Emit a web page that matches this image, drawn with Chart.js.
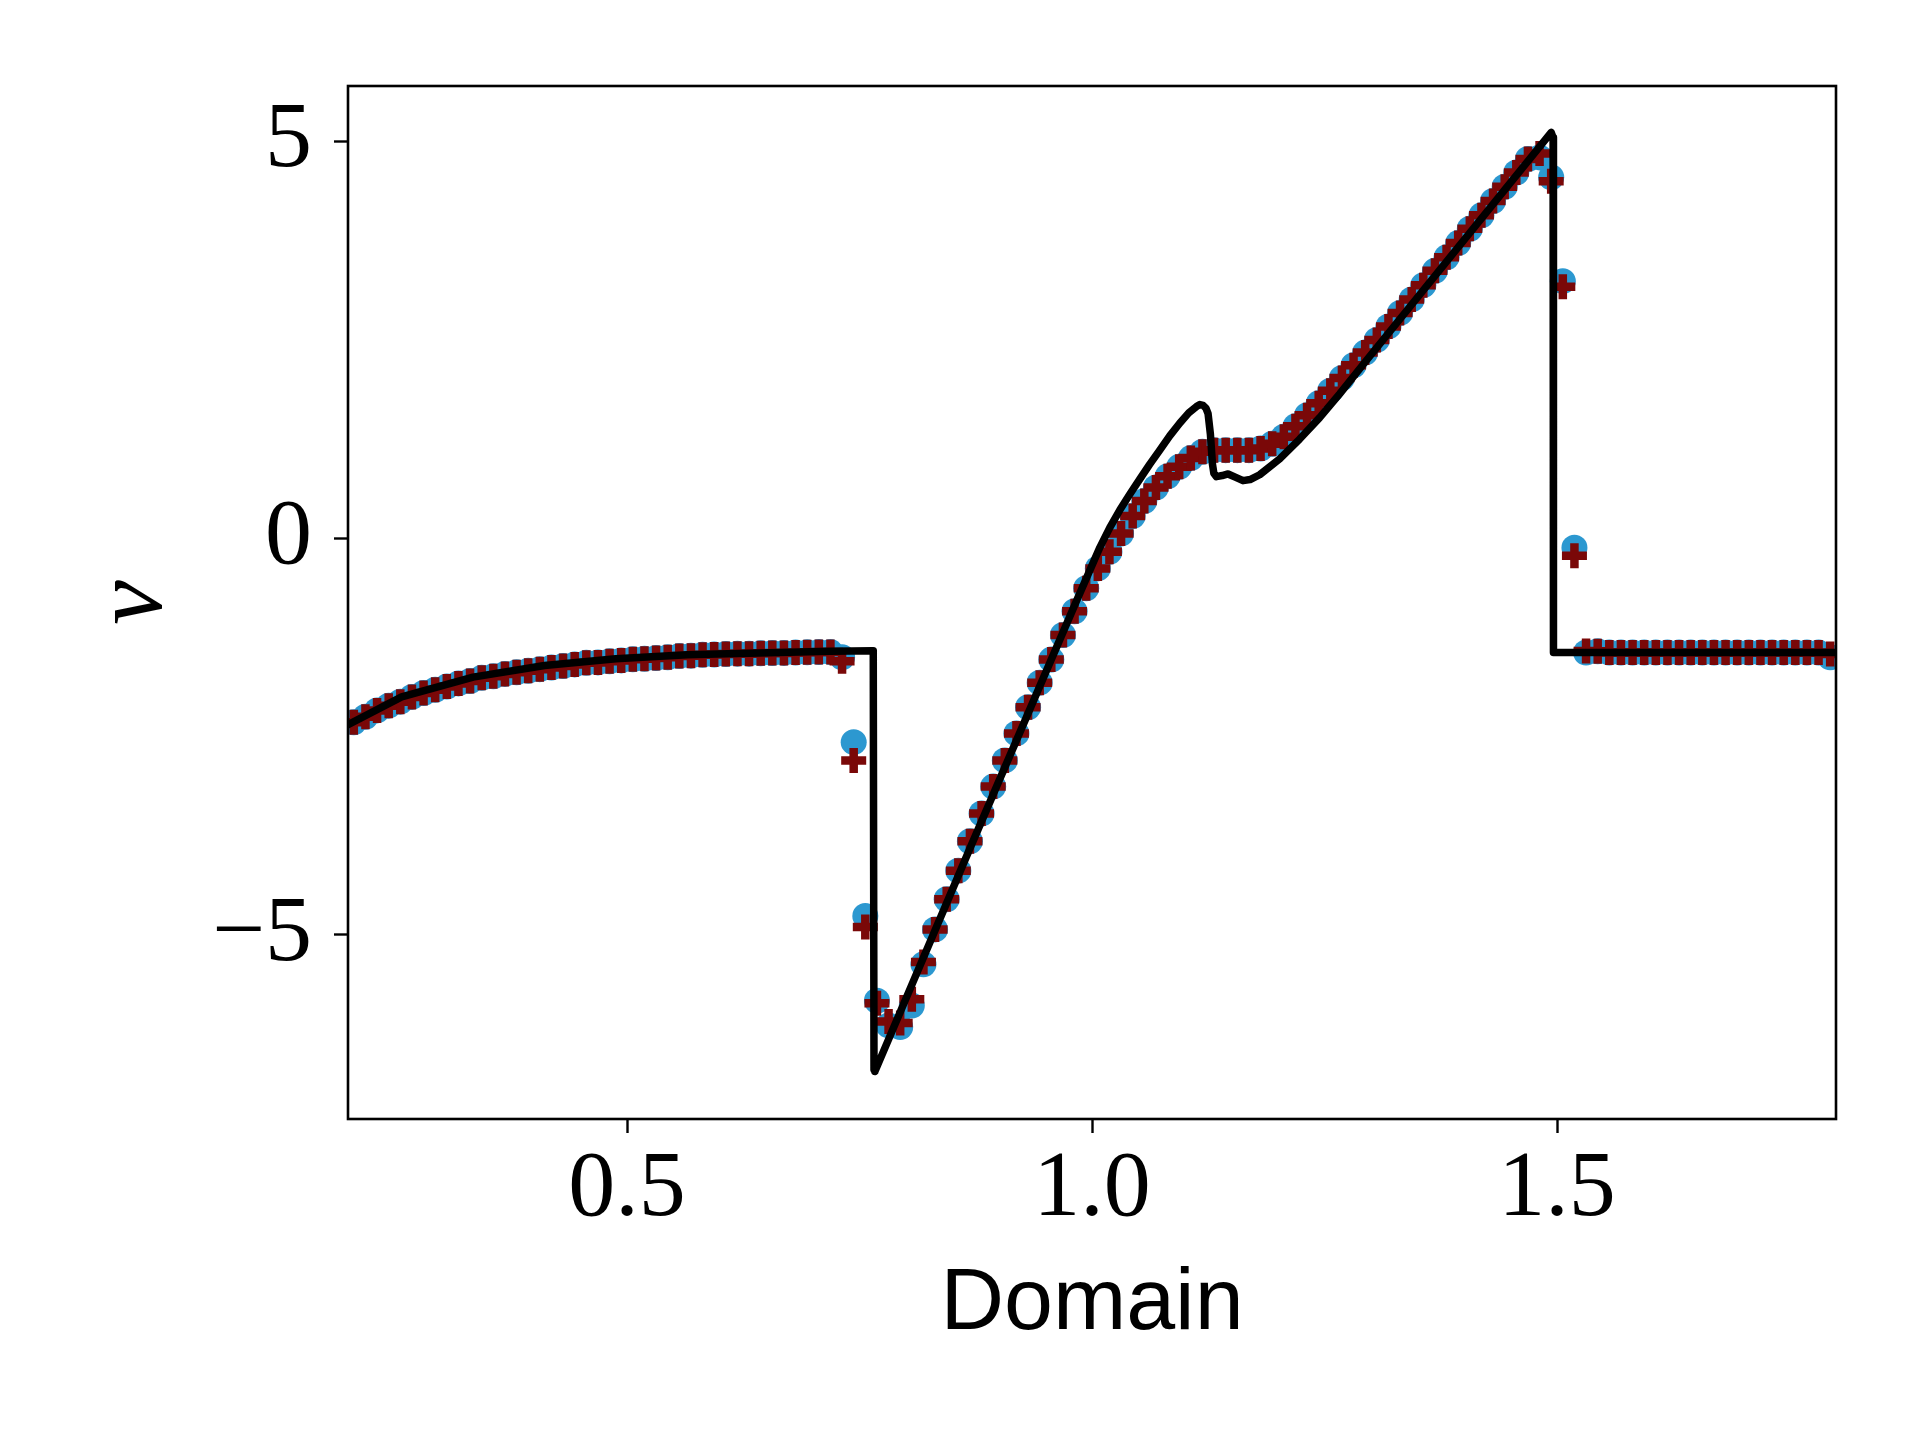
<!DOCTYPE html>
<html>
<head>
<meta charset="utf-8">
<script src="https://cdn.jsdelivr.net/npm/chart.js@4.4.1/dist/chart.umd.min.js"></script>
<style>
  html, body { margin:0; padding:0; background:#fff; }
  #wrap { width:1920px; height:1440px; }
</style>
</head>
<body>
<div id="wrap"><canvas id="chart" width="1920" height="1440"></canvas></div>
<script>
// cell centres of the numerical grid
const cellX = [
  0.20625,0.21875,0.23125,0.24375,0.25625,0.26875,0.28125,0.29375,
  0.30625,0.31875,0.33125,0.34375,0.35625,0.36875,0.38125,0.39375,
  0.40625,0.41875,0.43125,0.44375,0.45625,0.46875,0.48125,0.49375,
  0.50625,0.51875,0.53125,0.54375,0.55625,0.56875,0.58125,0.59375,
  0.60625,0.61875,0.63125,0.64375,0.65625,0.66875,0.68125,0.69375,
  0.70625,0.71875,0.73125,0.74375,0.75625,0.76875,0.78125,0.79375,
  0.80625,0.81875,0.83125,0.84375,0.85625,0.86875,0.88125,0.89375,
  0.90625,0.91875,0.93125,0.94375,0.95625,0.96875,0.98125,0.99375,
  1.00625,1.01875,1.03125,1.04375,1.05625,1.06875,1.08125,1.09375,
  1.10625,1.11875,1.13125,1.14375,1.15625,1.16875,1.18125,1.19375,
  1.20625,1.21875,1.23125,1.24375,1.25625,1.26875,1.28125,1.29375,
  1.30625,1.31875,1.33125,1.34375,1.35625,1.36875,1.38125,1.39375,
  1.40625,1.41875,1.43125,1.44375,1.45625,1.46875,1.48125,1.49375,
  1.50625,1.51875,1.53125,1.54375,1.55625,1.56875,1.58125,1.59375,
  1.60625,1.61875,1.63125,1.64375,1.65625,1.66875,1.68125,1.69375,
  1.70625,1.71875,1.73125,1.74375,1.75625,1.76875,1.78125,1.79375
];

// blue circles
const circleV = [
  -2.32,-2.25,-2.17,-2.11,-2.06,-2.00,-1.95,-1.91,
  -1.87,-1.83,-1.80,-1.76,-1.74,-1.71,-1.69,-1.67,
  -1.65,-1.63,-1.61,-1.59,-1.57,-1.565,-1.55,-1.54,
  -1.525,-1.52,-1.51,-1.50,-1.485,-1.48,-1.47,-1.465,
  -1.46,-1.455,-1.455,-1.45,-1.448,-1.445,-1.44,-1.437,
  -1.435,-1.435,-1.50,-2.57,-4.76,-5.83,-6.14,-6.16,
  -5.89,-5.37,-4.93,-4.55,-4.19,-3.82,-3.47,-3.13,
  -2.80,-2.46,-2.13,-1.82,-1.53,-1.22,-0.92,-0.63,
  -0.38,-0.17,0.06,0.28,0.47,0.64,0.78,0.90,
  1.01,1.09,1.11,1.11,1.11,1.11,1.13,1.19,
  1.28,1.41,1.55,1.70,1.86,2.02,2.18,2.34,
  2.50,2.67,2.84,3.01,3.19,3.37,3.54,3.72,
  3.90,4.07,4.25,4.43,4.61,4.78,4.80,4.55,
  3.24,-0.12,-1.44,-1.425,-1.44,-1.44,-1.44,-1.44,
  -1.44,-1.44,-1.44,-1.44,-1.44,-1.44,-1.44,-1.44,
  -1.44,-1.44,-1.44,-1.44,-1.44,-1.44,-1.44,-1.50
];

// dark red plus markers
const plusV = [
  -2.32,-2.25,-2.17,-2.11,-2.06,-2.00,-1.95,-1.91,
  -1.87,-1.83,-1.80,-1.76,-1.74,-1.71,-1.69,-1.67,
  -1.65,-1.63,-1.61,-1.59,-1.57,-1.565,-1.55,-1.54,
  -1.525,-1.52,-1.51,-1.50,-1.485,-1.48,-1.47,-1.465,
  -1.46,-1.455,-1.455,-1.45,-1.448,-1.445,-1.44,-1.437,
  -1.435,-1.435,-1.55,-2.80,-4.90,-5.86,-6.09,-6.11,
  -5.81,-5.34,-4.93,-4.55,-4.19,-3.82,-3.47,-3.13,
  -2.80,-2.46,-2.13,-1.82,-1.53,-1.22,-0.92,-0.63,
  -0.38,-0.17,0.06,0.28,0.47,0.64,0.78,0.90,
  1.01,1.09,1.11,1.11,1.11,1.11,1.13,1.19,
  1.28,1.41,1.55,1.70,1.86,2.02,2.18,2.34,
  2.50,2.67,2.84,3.01,3.19,3.37,3.54,3.72,
  3.90,4.07,4.25,4.43,4.61,4.78,4.85,4.50,
  3.17,-0.22,-1.42,-1.425,-1.44,-1.44,-1.44,-1.44,
  -1.44,-1.44,-1.44,-1.44,-1.44,-1.44,-1.44,-1.44,
  -1.44,-1.44,-1.44,-1.44,-1.44,-1.44,-1.44,-1.46
];

// reference (exact) solution, black line
const exactX = [0.200,0.2577,0.3345,0.4113,0.488,0.5647,0.6415,0.7183,0.7648,0.7656,0.7666,0.8687,0.9833,1.0085,1.0190,1.0299,1.0410,1.0514,1.0620,1.0729,1.0836,1.0943,1.1040,1.1123,1.1160,1.1194,1.1225,1.1248,1.1273,1.1295,1.1310,1.1338,1.1400,1.1463,1.1540,1.1624,1.1700,1.1803,1.2018,1.2233,1.2448,1.2663,1.2950,1.4938,1.4958,1.4962,1.800];
const exactV = [-2.35,-2.00,-1.75,-1.605,-1.52,-1.47,-1.445,-1.425,-1.418,-6.70,-6.72,-3.91,-0.79,-0.115,0.13,0.355,0.56,0.745,0.93,1.11,1.29,1.45,1.58,1.66,1.685,1.675,1.64,1.57,1.314,0.936,0.82,0.776,0.79,0.81,0.77,0.726,0.74,0.80,1.0,1.25,1.52,1.82,2.24,5.115,5.05,-1.44,-1.44];

const xTicks = [0.5, 1.0, 1.5];
const xTickLabels = ['0.5', '1.0', '1.5'];
const yTicks = [-5, 0, 5];
const yTickLabels = ['\u22125', '0', '5'];

const pts = (xs, ys) => xs.map((x, i) => ({ x, y: ys[i] }));

const frame = {
  id: 'frame',
  afterDraw(chart){
    const { ctx, chartArea: a } = chart;
    ctx.save();
    ctx.strokeStyle = '#000';
    ctx.lineWidth = 2.6;
    ctx.strokeRect(a.left, a.top, a.right - a.left, a.bottom - a.top);
    ctx.restore();
  }
};

const tickGrid = { display:true, drawOnChartArea:false, drawTicks:true, tickLength:14, tickWidth:2.4, tickColor:'#000' };

new Chart(document.getElementById('chart'), {
  type: 'scatter',
  data: {
    datasets: [
      { label:'exact', data: pts(exactX, exactV), showLine:true, pointRadius:0, borderColor:'#000', borderWidth:7.5,
        borderJoinStyle:'round', borderCapStyle:'round', tension:0, clip:0, order:1 },
      { label:'plus', data: pts(cellX, plusV), showLine:false, pointStyle:'cross', pointRadius:12.5,
        pointBorderColor:'#7a0808', pointBackgroundColor:'#7a0808', pointBorderWidth:8.5, clip:0, order:2 },
      { label:'circle', data: pts(cellX, circleV), showLine:false, pointStyle:'circle', pointRadius:13,
        pointBackgroundColor:'#2c98d0', pointBorderWidth:0, clip:0, order:3 }
    ]
  },
  options: {
    responsive:false, animation:false, devicePixelRatio:1,
    layout:{ padding:{ left:0, top:86, right:84, bottom:0 } },
    plugins:{ legend:{ display:false }, tooltip:{ enabled:false } },
    events: [],
    scales:{
      x:{
        type:'linear', min:0.2, max:1.8,
        afterFit(s){ s.height = 321; },
        afterBuildTicks(s){ s.ticks = xTicks.map(v => ({ value:v })); },
        grid: tickGrid,
        border:{ display:false },
        ticks:{ color:'#000', padding:1, maxRotation:0, autoSkip:false,
          font:{ family:'"Liberation Serif", serif', size:94 },
          callback:(v) => xTickLabels[xTicks.indexOf(v)] },
        title:{ display:true, text:'Domain', color:'#000',
          font:{ family:'"Liberation Sans", sans-serif', size:88 }, padding:{ top:0, bottom:82 } }
      },
      y:{
        type:'linear', min:-7.32, max:5.70,
        afterFit(s){ s.width = 348; },
        afterBuildTicks(s){ s.ticks = yTicks.map(v => ({ value:v })); },
        grid: tickGrid,
        border:{ display:false },
        ticks:{ color:'#000', padding:22, autoSkip:false,
          font:{ family:'"Liberation Serif", serif', size:94 },
          callback:(v) => yTickLabels[yTicks.indexOf(v)] },
        title:{ display:true, text:'v', color:'#000',
          font:{ family:'"Liberation Serif", serif', style:'italic', size:100 }, padding:{ top:75, bottom:0 } }
      }
    }
  },
  plugins:[frame]
});
</script>
</body>
</html>
